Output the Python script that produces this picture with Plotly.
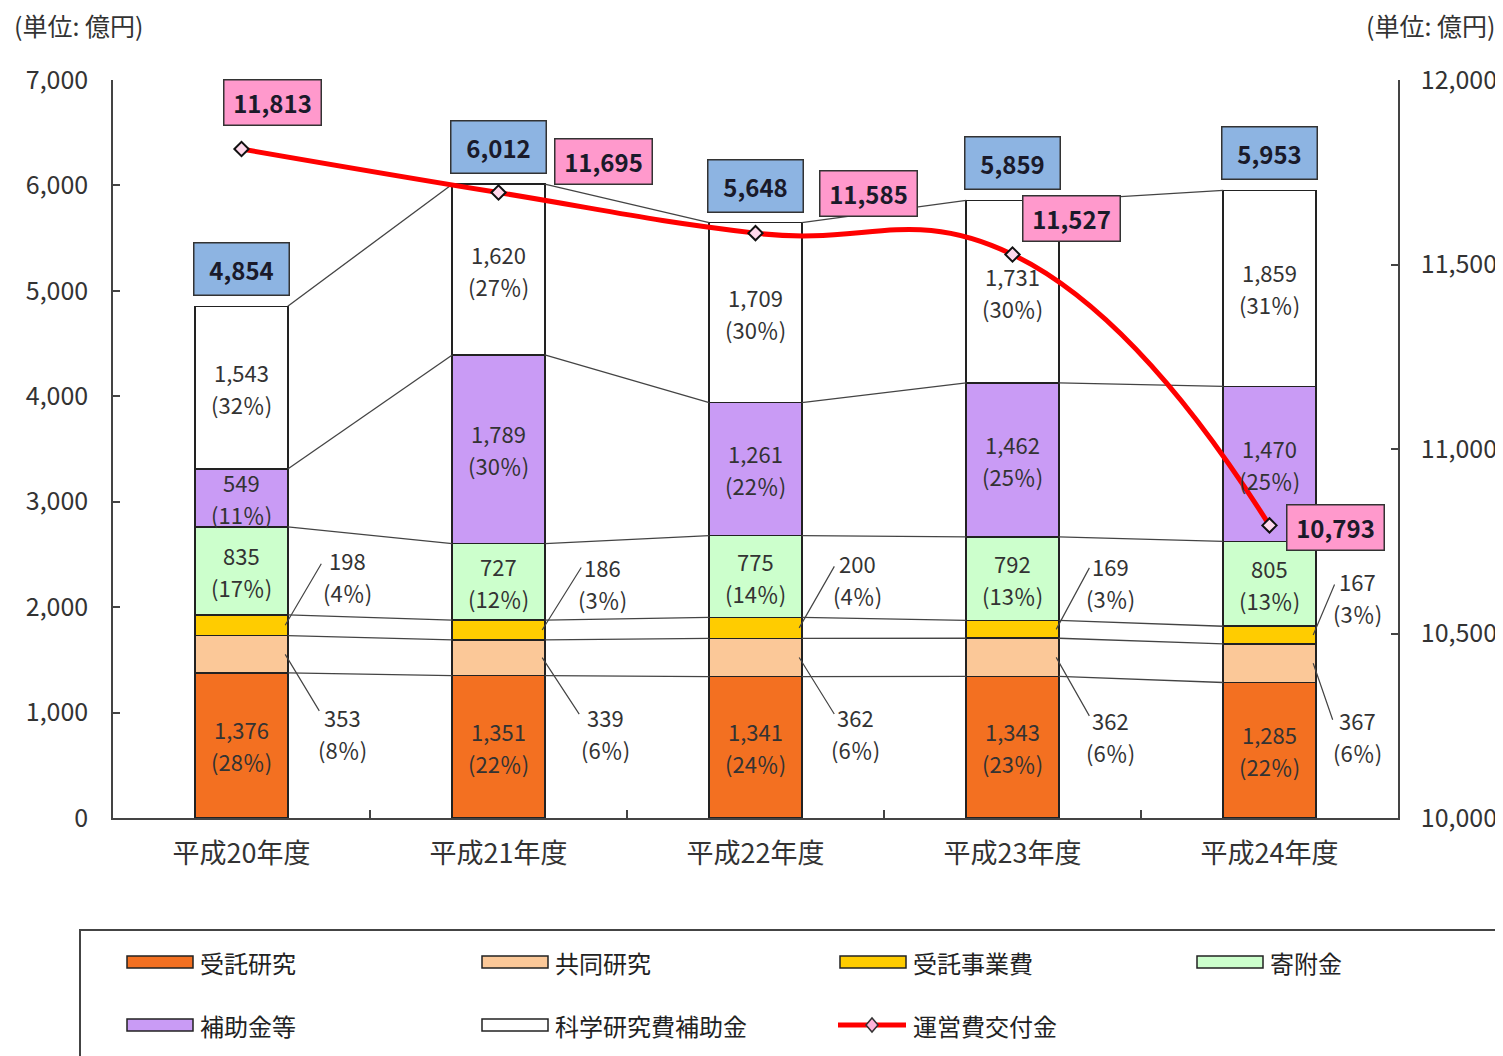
import plotly.graph_objects as go

# ---------------- data ----------------
years = ["平成20年度", "平成21年度", "平成22年度", "平成23年度", "平成24年度"]
series_names = ["受託研究", "共同研究", "受託事業費", "寄附金", "補助金等", "科学研究費補助金"]
jutaku_kenkyu = [1376, 1351, 1341, 1343, 1285]
kyodo_kenkyu = [353, 339, 362, 362, 367]
jutaku_jigyo = [198, 186, 200, 169, 167]
kifukin = [835, 727, 775, 792, 805]
hojokin = [549, 1789, 1261, 1462, 1470]
kakenhi = [1543, 1620, 1709, 1731, 1859]
pct_jutaku_kenkyu = [28, 22, 24, 23, 22]
pct_kyodo_kenkyu = [8, 6, 6, 6, 6]
pct_jutaku_jigyo = [4, 3, 4, 3, 3]
pct_kifukin = [17, 12, 14, 13, 13]
pct_hojokin = [11, 30, 22, 25, 25]
pct_kakenhi = [32, 27, 30, 30, 31]
totals = [4854, 6012, 5648, 5859, 5953]
unei_name = "運営費交付金"
unei = [11813, 11695, 11585, 11527, 10793]

# ---------------- styling ----------------
OFF = 8  # page body margin
W, H = 1503 - OFF, 1056 - OFF
L, R, T, B = 113 - OFF, 1398 - OFF, 80 - OFF, 818 - OFF
FONT = "Noto Sans CJK JP"
TXT = "#333333"
colors = ["#F37021", "#FBC898", "#FFCC00", "#CCFFCC", "#C99BF5", "#FFFFFF"]
BW = 0.36
LBL = 22      # label font size
HALF = 16     # half line spacing of two-line labels

def px(x):
    return (x - OFF - L) / (R - L)

def py(y):
    return (B - (y - OFF)) / (B - T)

values = [jutaku_kenkyu, kyodo_kenkyu, jutaku_jigyo, kifukin, hojokin, kakenhi]
pcts = [pct_jutaku_kenkyu, pct_kyodo_kenkyu, pct_jutaku_jigyo, pct_kifukin, pct_hojokin, pct_kakenhi]
xs = list(range(len(years)))

fig = go.Figure()

# stacked bars
for k, (name, vals) in enumerate(zip(series_names, values)):
    fig.add_trace(go.Bar(
        x=xs, y=vals, name=name, width=BW,
        marker=dict(color=colors[k], line=dict(color="#222222", width=1.5)),
        showlegend=False, hoverinfo="skip",
    ))

ann = []

# series connector lines between bars + inside labels
cum = [0] * len(years)
for k, (vals, pc) in enumerate(zip(values, pcts)):
    prev = cum
    cum = [c + v for c, v in zip(cum, vals)]
    lx, ly = [], []
    for i in range(len(years) - 1):
        lx += [i + BW / 2, i + 1 - BW / 2, None]
        ly += [cum[i], cum[i + 1], None]
    fig.add_trace(go.Scatter(x=lx, y=ly, mode="lines",
                             line=dict(color="#444444", width=1.3),
                             showlegend=False, hoverinfo="skip"))
    if k in (1, 2):
        continue
    for i in xs:
        mid = (prev[i] + cum[i]) / 2
        ann.append(dict(x=i, y=mid, xref="x", yref="y", text=f"{vals[i]:,}",
                        showarrow=False, yshift=HALF,
                        font=dict(family=FONT, size=LBL, color=TXT)))
        ann.append(dict(x=i, y=mid, xref="x", yref="y", text=f"({pc[i]}％)",
                        showarrow=False, yshift=-HALF,
                        font=dict(family=FONT, size=LBL, color=TXT)))

# line on secondary axis
fig.add_trace(go.Scatter(
    x=xs, y=unei, name=unei_name, yaxis="y2", mode="lines+markers",
    line=dict(color="#FF0000", width=5, shape="spline", smoothing=1.3),
    marker=dict(symbol="diamond", size=11, color="#FFD9EC",
                line=dict(color="#111111", width=2)),
    showlegend=False, hoverinfo="skip",
))

# total boxes
for i, t in enumerate(totals):
    ann.append(dict(x=i, y=t, xref="x", yref="y", text=f"<b>{t:,}</b>",
                    showarrow=False, yshift=37, bgcolor="#8DB4E2",
                    width=90, height=47, borderpad=2,
                    bordercolor="#333333", borderwidth=1.5,
                    font=dict(family=FONT, size=24, color="#1A1A2A")))
# operating grant labels
unei_offsets = [(31, 47), (105, 31), (113, 40), (59, 36), (66, -2)]
for i, (v, (dx, dy)) in enumerate(zip(unei, unei_offsets)):
    ann.append(dict(x=i, y=v, xref="x", yref="y2", text=f"<b>{v:,}</b>",
                    showarrow=False, xshift=dx, yshift=dy, bgcolor="#FF99CC",
                    width=92, height=40, borderpad=2,
                    bordercolor="#333333", borderwidth=1.5,
                    font=dict(family=FONT, size=24, color="#1A1A2A")))

# outside labels for small segments (text offsets + leader line ends, px)
jigyo_txt = [(62, -65), (60, -63), (58, -65), (54, -63), (44, -54)]
jigyo_lead = [(37, -63), (40, -64), (36, -63), (34, -63), (22, -52)]
kyodo_txt = [(57, 63), (63, 59), (56, 59), (54, 63), (44, 57)]
kyodo_lead = [(35, 58), (38, 58), (36, 58), (34, 60), (20, 58)]
for i in xs:
    base1 = jutaku_kenkyu[i]
    mid_kyodo = base1 + kyodo_kenkyu[i] / 2
    mid_jigyo = base1 + kyodo_kenkyu[i] + jutaku_jigyo[i] / 2
    for mid, v, p, (tx, ty), (lx_, ly_) in (
            (mid_jigyo, jutaku_jigyo[i], pct_jutaku_jigyo[i], jigyo_txt[i], jigyo_lead[i]),
            (mid_kyodo, kyodo_kenkyu[i], pct_kyodo_kenkyu[i], kyodo_txt[i], kyodo_lead[i])):
        ann.append(dict(x=i + 0.17, y=mid, xref="x", yref="y", text="",
                        showarrow=True, arrowhead=0, arrowwidth=1.2, arrowcolor="#444444",
                        ax=lx_, ay=ly_, standoff=0, startstandoff=0))
        ann.append(dict(x=i + 0.17, y=mid, xref="x", yref="y", text=f"{v}",
                        showarrow=False, xshift=tx, yshift=-ty,
                        font=dict(family=FONT, size=LBL, color=TXT)))
        ann.append(dict(x=i + 0.17, y=mid, xref="x", yref="y", text=f"({p}％)",
                        showarrow=False, xshift=tx, yshift=-(ty + 2 * HALF),
                        font=dict(family=FONT, size=LBL, color=TXT)))

# unit labels
ann.append(dict(x=px(12), y=py(25), xref="paper", yref="paper", text="(単位: 億円)",
                showarrow=False, xanchor="left", yanchor="middle",
                font=dict(family=FONT, size=25, color=TXT)))
ann.append(dict(x=px(1497), y=py(25), xref="paper", yref="paper", text="(単位: 億円)",
                showarrow=False, xanchor="right", yanchor="middle",
                font=dict(family=FONT, size=25, color=TXT)))

shapes = []
# legend frame
shapes.append(dict(type="rect", xref="paper", yref="paper",
                   x0=px(80), x1=px(1515), y0=py(930), y1=py(1075),
                   line=dict(color="#444444", width=2), fillcolor="rgba(0,0,0,0)"))
legend_pos = [(127, 962), (482, 962), (840, 962), (1197, 962), (127, 1025), (482, 1025)]
for k, (lxp, lyp) in enumerate(legend_pos):
    shapes.append(dict(type="rect", xref="paper", yref="paper",
                       x0=px(lxp), x1=px(lxp + 66), y0=py(lyp - 6), y1=py(lyp + 6),
                       line=dict(color="#222222", width=1.5), fillcolor=colors[k]))
    ann.append(dict(x=px(lxp + 71), y=py(lyp), xref="paper", yref="paper",
                    text=series_names[k], showarrow=False, xanchor="left", yanchor="middle",
                    font=dict(family=FONT, size=24, color="#222222")))
# line legend item
lxp, lyp = 838, 1025
shapes.append(dict(type="line", xref="paper", yref="paper",
                   x0=px(lxp), x1=px(lxp + 68), y0=py(lyp), y1=py(lyp),
                   line=dict(color="#FF0000", width=5)))
cx, cy = lxp + 34, lyp
shapes.append(dict(type="path", xref="paper", yref="paper",
                   path=f"M{px(cx-6)},{py(cy)} L{px(cx)},{py(cy-7)} L{px(cx+6)},{py(cy)} L{px(cx)},{py(cy+7)} Z",
                   fillcolor="#FFB3D9", line=dict(color="#333333", width=1.5)))
ann.append(dict(x=px(lxp + 73), y=py(lyp), xref="paper", yref="paper",
                text=unei_name, showarrow=False, xanchor="left", yanchor="middle",
                font=dict(family=FONT, size=24, color="#222222")))

fig.update_layout(
    width=W, height=H, barmode="stack",
    margin=dict(l=L, r=W - R, t=T, b=H - B, pad=0, autoexpand=False),
    paper_bgcolor="white", plot_bgcolor="white",
    showlegend=False,
    font=dict(family=FONT, color=TXT),
    xaxis=dict(range=[-0.5, len(years) - 0.5], tickmode="array", tickvals=xs, ticktext=years,
               ticks="", showline=True, linecolor="#444444", linewidth=1.5, automargin=False,
               showgrid=False, zeroline=False, ticklabelstandoff=11,
               tickfont=dict(family=FONT, size=27, color=TXT),
               minor=dict(tickmode="array", tickvals=[i + 0.5 for i in xs[:-1]],
                          ticks="inside", ticklen=8, tickcolor="#444444", tickwidth=1.5)),
    yaxis=dict(range=[0, 7000], dtick=1000, tickformat=",", showline=True, automargin=False,
               linecolor="#444444", linewidth=1.5, ticks="inside", ticklen=7,
               tickcolor="#444444", tickwidth=1.5, showgrid=False, zeroline=False,
               ticklabelstandoff=18,
               tickfont=dict(family=FONT, size=25, color=TXT)),
    yaxis2=dict(range=[10000, 12000], dtick=500, tickformat=",", overlaying="y",
                side="right", showline=True, linecolor="#444444", linewidth=1.5,
                automargin=False,
                ticks="inside", ticklen=7, tickcolor="#444444", tickwidth=1.5,
                showgrid=False, zeroline=False, ticklabelstandoff=16,
                tickfont=dict(family=FONT, size=25, color=TXT)),
    annotations=ann, shapes=shapes,
)

fig.write_html("out.html")
